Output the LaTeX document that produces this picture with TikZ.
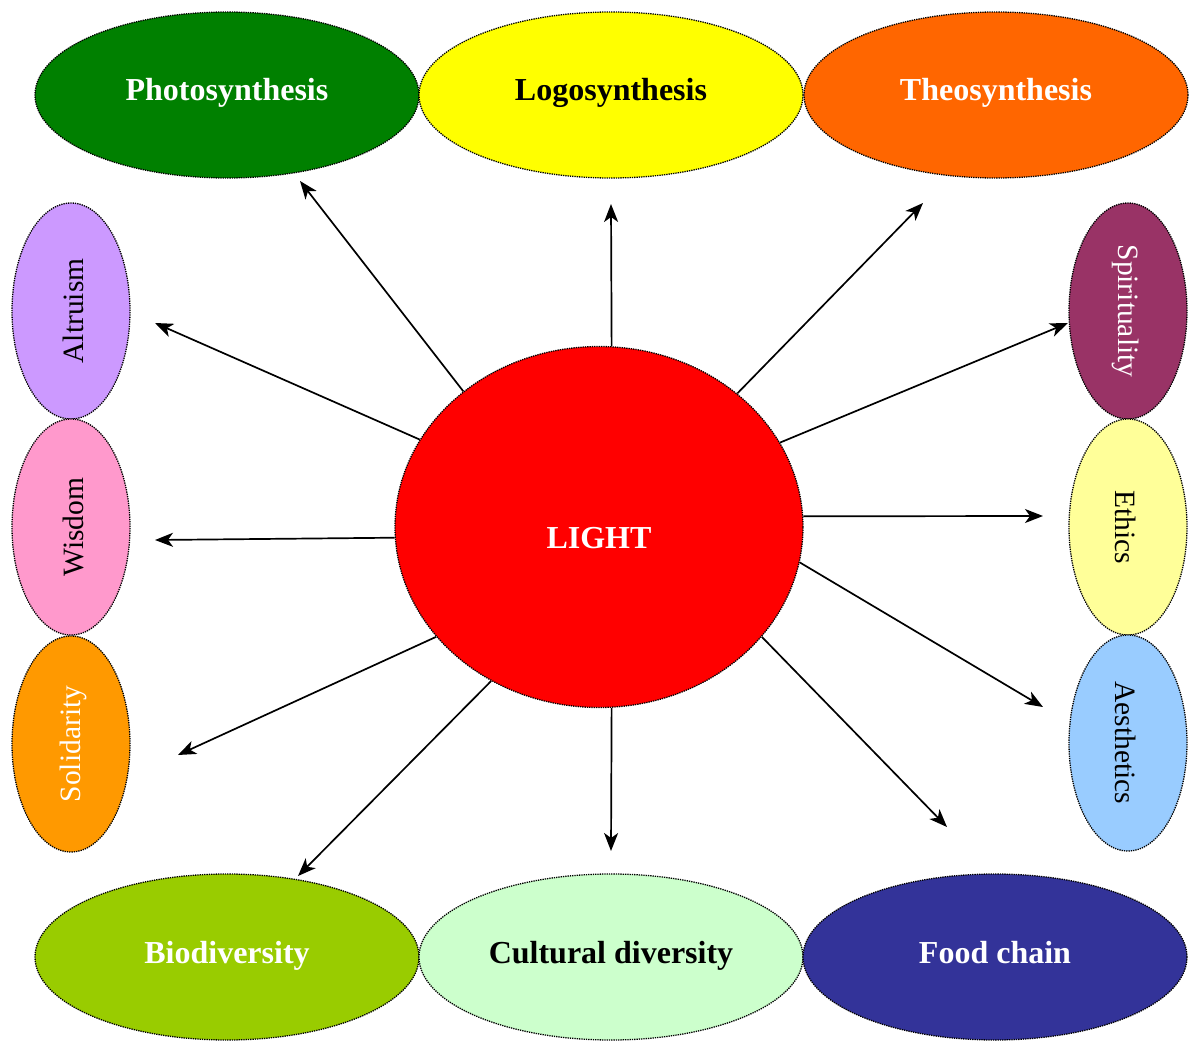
\documentclass[tikz,border=0pt]{standalone}
\usepackage{fontspec}
\setmainfont{Liberation Serif}
\usetikzlibrary{shapes.geometric,arrows.meta}
\definecolor{cPhoto}{HTML}{008000}
\definecolor{cLogo}{HTML}{FFFF00}
\definecolor{cTheo}{HTML}{FF6600}
\definecolor{cAltr}{HTML}{CC99FF}
\definecolor{cWisd}{HTML}{FF99CC}
\definecolor{cSoli}{HTML}{FF9900}
\definecolor{cSpir}{HTML}{993366}
\definecolor{cEthi}{HTML}{FFFF99}
\definecolor{cAest}{HTML}{99CCFF}
\definecolor{cBiod}{HTML}{99CC00}
\definecolor{cCult}{HTML}{CCFFCC}
\definecolor{cFood}{HTML}{333399}
\definecolor{cLight}{HTML}{FF0000}
\tikzset{
  oval/.style={ellipse, draw=black, densely dotted, line width=1.3pt, inner sep=0pt},
  hbox/.style={oval, minimum width=384pt, minimum height=166pt},
  vbox/.style={oval, minimum width=118pt, minimum height=216pt},
  htext/.style={anchor=base, inner sep=0pt, font=\fontsize{32}{36}\selectfont\bfseries},
  vtext/.style={font=\fontsize{29.5}{34}\selectfont},
  ray/.style={line width=1.7pt, -{Stealth[length=18pt,width=14pt,inset=5pt]}},
}
\begin{document}
\begin{tikzpicture}[x=1pt,y=-1pt]
\useasboundingbox (0,0) rectangle (1192,1041);
% top
\node[hbox, fill=cPhoto] (photo) at (227,95) {};
\node[htext, text=white] (photot) at (227,100) {Photosynthesis};
\node[hbox, fill=cLogo] (logo) at (611,95) {};
\node[htext, text=black] (logot) at (611,100) {Logosynthesis};
\node[hbox, fill=cTheo] (theo) at (996,95) {};
\node[htext, text=white] (theot) at (996,100) {Theosynthesis};
% bottom
\node[hbox, fill=cBiod] (biod) at (227,957) {};
\node[htext, text=white] (biodt) at (227,963) {Biodiversity};
\node[hbox, fill=cCult] (cult) at (611,957) {};
\node[htext, text=black] (cultt) at (611,963) {Cultural diversity};
\node[hbox, fill=cFood] (food) at (995,957) {};
\node[htext, text=white] (foodt) at (995,963) {Food chain};
% left
\node[vbox, fill=cAltr] (altr) at (71,311) {};
\node[vtext, rotate=90, text=black] (altrt) at (73,311) {Altruism};
\node[vbox, fill=cWisd] (wisd) at (71,527) {};
\node[vtext, rotate=90, text=black] (wisdt) at (73,527) {Wisdom};
\node[vbox, fill=cSoli] (soli) at (71,744) {};
\node[vtext, rotate=90, text=white] (solit) at (73,744) {Solidarity};
% right
\node[vbox, fill=cSpir] (spir) at (1128,311) {};
\node[vtext, rotate=-90, text=white] (spirt) at (1126,311) {Spirituality};
\node[vbox, fill=cEthi] (ethi) at (1128,527) {};
\node[vtext, rotate=-90, text=black] (ethit) at (1126,527) {Ethics};
\node[vbox, fill=cAest] (aest) at (1128,743) {};
\node[vtext, rotate=-90, text=black] (aestt) at (1126,743) {Aesthetics};
% centre
\node[oval, fill=cLight, minimum width=408pt, minimum height=361pt] (light) at (599,527) {};
\node[htext, text=white] (lightt) at (599,548) {LIGHT};
% tips
\coordinate (t1) at (300,181);
\coordinate (t2) at (611,204);
\coordinate (t3) at (923,203);
\coordinate (t4) at (1068,323);
\coordinate (t5) at (1043,516);
\coordinate (t6) at (1043,707);
\coordinate (t7) at (947,827);
\coordinate (t8) at (611,851);
\coordinate (t9) at (298,876);
\coordinate (t10) at (178,755);
\coordinate (t11) at (155,540);
\coordinate (t12) at (155,323);
% rays
\draw[ray] (light.135) -- (t1);
\draw[ray] (light.86.2) -- (t2);
\draw[ray] (light.44.6) -- (t3);
\draw[ray] (light.25.2) -- (t4);
\draw[ray] (light.3.1) -- (t5);
\draw[ray] (light.-10.5) -- (t6);
\draw[ray] (light.-34.7) -- (t7);
\draw[ray] (light.-86.2) -- (t8);
\draw[ray] (light.235.7) -- (t9);
\draw[ray] (light.214.9) -- (t10);
\draw[ray] (light.183.6) -- (t11);
\draw[ray] (light.154.8) -- (t12);
\end{tikzpicture}
\end{document}
